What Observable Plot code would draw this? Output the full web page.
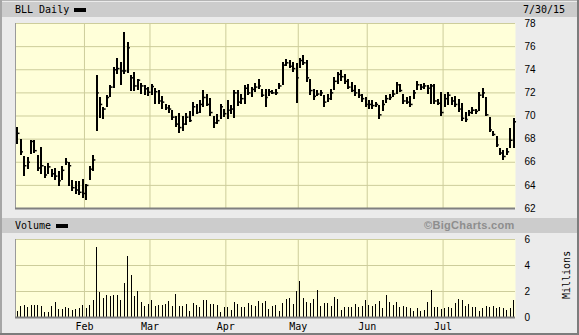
<!DOCTYPE html>
<html><head><meta charset="utf-8">
<script src="https://cdn.jsdelivr.net/npm/d3@7"></script>
<script src="https://cdn.jsdelivr.net/npm/@observablehq/plot@0.6"></script>
<style>
html,body{margin:0;padding:0;background:#fff;}
#chart{position:relative;width:579px;height:335px;background:#ebebeb;overflow:hidden;}
.hbar{position:absolute;left:2px;width:575px;height:15px;background:#cccccc;}
.mono{position:absolute;font-family:"DejaVu Sans Mono",monospace;font-size:10px;line-height:15px;color:#000;white-space:pre;}
.sw{position:absolute;background:#000;width:12px;height:4px;}
.edge{position:absolute;}
#chart svg{position:absolute;left:0;top:0;}
</style></head><body>
<div id="chart">
  <div class="edge" style="left:0;top:0;width:579px;height:1px;background:#b4b4b4"></div>
  <div class="edge" style="left:0;top:0;width:2px;height:335px;background:#a6a6a6"></div>
  <div class="edge" style="left:577px;top:0;width:2px;height:335px;background:#7c7c7c"></div>
  <div class="edge" style="left:0;top:333px;width:579px;height:2px;background:#7c7c7c"></div>
  <div class="hbar" style="top:2px"></div>
  <div class="hbar" style="top:218px"></div>
  <div class="mono" style="left:15px;top:2px">BLL Daily</div>
  <div class="sw" style="left:74px;top:8px"></div>
  <div class="mono" style="left:523px;top:2px">7/30/15</div>
  <div class="mono" style="left:15px;top:218px">Volume</div>
  <div class="sw" style="left:56px;top:224px"></div>
  <div style="position:absolute;left:424px;top:218px;line-height:15px;font-family:'Liberation Sans',Arial,sans-serif;font-weight:bold;font-size:11px;letter-spacing:0.3px;color:#8e8e8e;white-space:pre">©BigCharts.com</div>
  <div class="mono" style="left:543px;top:268px;width:47px;text-align:center;transform:rotate(-90deg);transform-origin:23.5px 7.5px">Millions</div>
</div>
<script>
// ---- data (BLL daily, 2 Jan 2015 – 30 Jul 2015, trading days) ----
const startDate = "2015-01-02";
const endDate = "2015-07-30";
const holidays = ["2015-01-19","2015-02-16","2015-04-03","2015-05-25","2015-07-03"];
const monthLabels = ["Feb","Mar","Apr","May","Jun","Jul"];
const priceTicks = [62,64,66,68,70,72,74,76,78];
const volumeTicks = [0,2,4,6];

const high = [69.0,68.0,66.5,66.4,67.9,67.9,66.6,67.3,65.6,65.9,65.4,65.5,65.2,65.6,66.3,66.0,64.4,64.3,64.3,64.5,
64.1,65.6,66.6,73.5,71.6,70.7,71.8,72.6,74.2,75.0,74.6,77.2,76.4,73.5,73.8,73.2,72.8,72.6,72.5,
72.7,72.35,72.2,71.7,71.0,70.9,70.5,70.0,70.2,70.0,70.2,70.4,71.2,71.0,71.3,72.2,71.9,71.5,70.0,70.1,71.0,70.6,
71.3,70.9,72.2,72.2,71.9,72.6,72.7,72.5,72.8,73.2,72.3,72.3,72.3,72.2,72.3,72.8,74.6,74.9,74.8,74.6,74.5,
75.0,75.2,74.8,73.2,72.3,72.2,72.2,71.8,71.9,72.3,73.3,73.8,73.9,73.6,73.2,72.9,72.6,72.3,71.9,71.6,
71.3,71.3,71.2,70.9,71.3,71.8,71.9,72.2,72.9,72.75,71.9,71.6,71.7,72.2,73.0,72.75,72.8,72.6,72.7,72.7,71.45,72.0,
71.9,72.0,71.6,71.7,71.4,71.1,70.3,70.5,70.7,70.6,72.0,72.4,71.6,69.9,68.7,68.2,67.2,67.0,67.2,68.9,69.8];
const low = [67.5,66.6,64.8,65.4,66.7,66.8,65.2,64.9,64.6,64.9,64.7,64.4,63.9,64.4,65.7,63.9,63.5,63.2,63.1,62.9,
62.7,64.4,65.2,68.7,69.8,69.7,70.75,71.6,72.4,73.6,72.6,73.6,73.7,72.1,72.1,72.2,71.9,71.8,71.7,
71.8,71.0,71.0,70.6,70.5,70.2,69.6,69.0,68.5,68.7,69.2,69.45,70.0,70.1,70.2,70.7,70.8,70.0,68.9,69.3,69.7,69.9,
69.7,70.1,69.8,70.8,71.0,71.0,71.8,71.6,72.0,72.3,71.6,70.7,71.7,71.9,71.8,72.3,72.6,74.3,74.1,73.8,71.1,
74.1,74.4,72.9,71.8,71.3,71.7,71.7,70.7,71.2,71.3,72.2,72.75,73.0,72.75,72.3,72.0,71.7,71.5,71.2,70.7,
70.6,70.6,70.7,69.7,70.4,71.1,71.3,71.6,71.9,72.0,71.0,71.0,70.7,71.4,72.2,72.2,72.3,71.9,71.0,71.0,70.9,70.0,
70.7,70.9,70.9,70.7,70.3,69.5,69.4,70.0,70.1,70.1,70.4,71.5,70.0,68.6,68.2,67.3,66.6,66.15,66.6,67.2,67.2];
const close = [68.5,66.9,65.7,66.0,67.8,67.0,65.5,65.7,64.9,65.6,65.0,64.8,64.4,65.3,66.0,65.7,63.8,63.6,63.4,63.3,
64.0,65.4,66.2,72.0,71.0,70.6,71.6,72.5,74.0,74.1,73.9,73.9,75.9,73.3,72.6,73.1,72.6,72.35,72.05,
72.55,72.1,71.3,71.2,70.7,70.6,69.9,69.3,69.0,69.3,69.9,69.6,70.8,70.3,71.0,71.6,71.0,70.3,69.4,69.6,70.8,70.2,
70.5,70.6,72.0,71.2,71.5,72.4,72.0,72.3,72.5,72.6,71.8,71.6,72.1,72.0,72.0,72.6,74.4,74.6,74.3,74.1,73.3,
74.8,74.6,73.3,72.2,71.7,71.9,72.0,71.2,71.5,72.0,73.0,73.6,73.4,73.0,72.5,72.2,72.0,71.8,71.5,71.0,
71.0,70.9,71.0,70.1,71.0,71.5,71.6,71.9,72.7,72.2,71.3,71.2,71.0,72.0,72.7,72.5,72.6,72.4,72.6,71.3,71.1,70.3,
71.5,71.8,71.3,71.0,70.6,69.8,69.7,70.3,70.5,70.4,71.8,72.0,70.1,68.8,68.4,67.5,66.8,66.5,66.9,67.9,69.5];
const volume = [0.49,0.85,0.92,0.74,0.92,0.92,0.92,0.85,0.41,0.41,0.85,1.15,0.64,0.59,0.74,0.67,0.54,0.64,0.72,0.92,
0.67,0.92,1.3,5.36,1.92,1.46,1.69,1.6,1.69,1.69,1.3,2.64,4.7,3.23,1.6,2.0,1.18,0.85,1.0,
1.3,0.85,0.95,0.95,1.0,1.23,0.85,1.77,0.85,0.85,1.0,0.46,1.1,0.9,0.8,1.3,1.3,1.0,1.0,0.9,0.41,0.8,
0.8,0.54,1.15,1.0,0.74,0.74,1.1,0.9,0.85,1.2,1.05,1.26,0.64,0.85,0.9,0.49,1.1,1.36,1.44,1.0,2.0,
2.8,1.44,1.15,1.1,1.38,2.08,0.85,1.1,1.1,0.85,1.51,1.38,0.54,0.74,0.74,0.8,1.0,0.8,0.85,1.3,
0.92,0.85,1.0,1.23,0.67,1.69,1.18,0.92,1.18,0.8,0.85,0.74,0.67,0.46,0.67,0.46,0.54,1.15,2.08,0.74,0.74,0.59,
0.67,0.74,0.67,1.05,1.38,1.3,0.85,1.0,0.8,0.74,0.46,0.67,0.85,0.8,0.85,0.67,0.8,0.67,0.54,0.67,1.3];

// ---- trading calendar ----
const dates = [];
for (let d = new Date(startDate + "T12:00:00Z"); d <= new Date(endDate + "T12:00:00Z"); d = new Date(+d + 864e5)) {
  const s = d.toISOString().slice(0,10), w = d.getUTCDay();
  if (w !== 0 && w !== 6 && !holidays.includes(s)) dates.push(s);
}
const rows = dates.map((date, i) => ({i, date, high: high[i], low: low[i], close: close[i], volume: volume[i]}));
const n = rows.length;
const monthPos = [];
rows.forEach((r, i) => { if (i > 0 && r.date.slice(5,7) !== rows[i-1].date.slice(5,7)) monthPos.push(i - 0.5); });
const labelAt = new Map(monthPos.map((p, k) => [p, monthLabels[k]]));

const grid = {stroke: "#cdcd9b", strokeWidth: 1};
const panelFill = "#ffffd9";
const xDomain = [-0.5, n - 0.5];
const common = {width: 579, marginLeft: 15, marginRight: 64,
  style: {background: "transparent", overflow: "visible", fontFamily: "'Liberation Sans', Arial, sans-serif", fontSize: "10px", color: "#000"}};

const pricePlot = Plot.plot({
  ...common, height: 215, marginTop: 23, marginBottom: 7,
  x: {domain: xDomain, axis: null, label: null},
  y: {domain: [62, 78], axis: null, label: null},
  marks: [
    Plot.frame({fill: panelFill, stroke: "none"}),
    Plot.ruleY(priceTicks, grid),
    Plot.ruleX(monthPos, grid),
    Plot.ruleX([xDomain[0]], {stroke: "#9a9a9a"}),
    Plot.ruleY([62], {stroke: "#808080", strokeWidth: 2}),
    Plot.axisY({anchor: "right", ticks: priceTicks, tickFormat: "d", tickSize: 0, tickPadding: 9, fill: "#000", label: null}),
    Plot.ruleX(rows, {x: "i", y1: "low", y2: "high", stroke: "#000", strokeWidth: 2, shapeRendering: "crispEdges"}),
    Plot.ruleY(rows, {x1: "i", x2: d => d.i + 0.8, y: "close", stroke: "#000", strokeWidth: 1.5})
  ]
});

const volumePlot = Plot.plot({
  ...common, height: 335, marginTop: 239, marginBottom: 18,
  x: {domain: xDomain, axis: null, label: null},
  y: {domain: [0, 6], axis: null, label: null},
  marks: [
    Plot.frame({fill: panelFill, stroke: "none"}),
    Plot.ruleY(volumeTicks, grid),
    Plot.ruleX(monthPos, grid),
    Plot.ruleX([xDomain[0]], {stroke: "#9a9a9a"}),
    Plot.axisY({anchor: "right", ticks: volumeTicks, tickFormat: "d", tickSize: 0, tickPadding: 9, fill: "#000", label: null}),
    Plot.axisX({ticks: monthPos, tickFormat: d => labelAt.get(d), tickSize: 0, tickPadding: 5, label: null,
      fontFamily: "'DejaVu Sans Mono', monospace", fontSize: 10, fill: "#000"}),
    Plot.ruleX(rows, {x: "i", y1: 0, y2: "volume", stroke: "#000", strokeWidth: 1, shapeRendering: "crispEdges"}),
    Plot.ruleY([0], {stroke: "#808080", strokeWidth: 2})
  ]
});

const chart = document.getElementById("chart");
chart.appendChild(pricePlot);
chart.appendChild(volumePlot);
</script>
</body></html>
